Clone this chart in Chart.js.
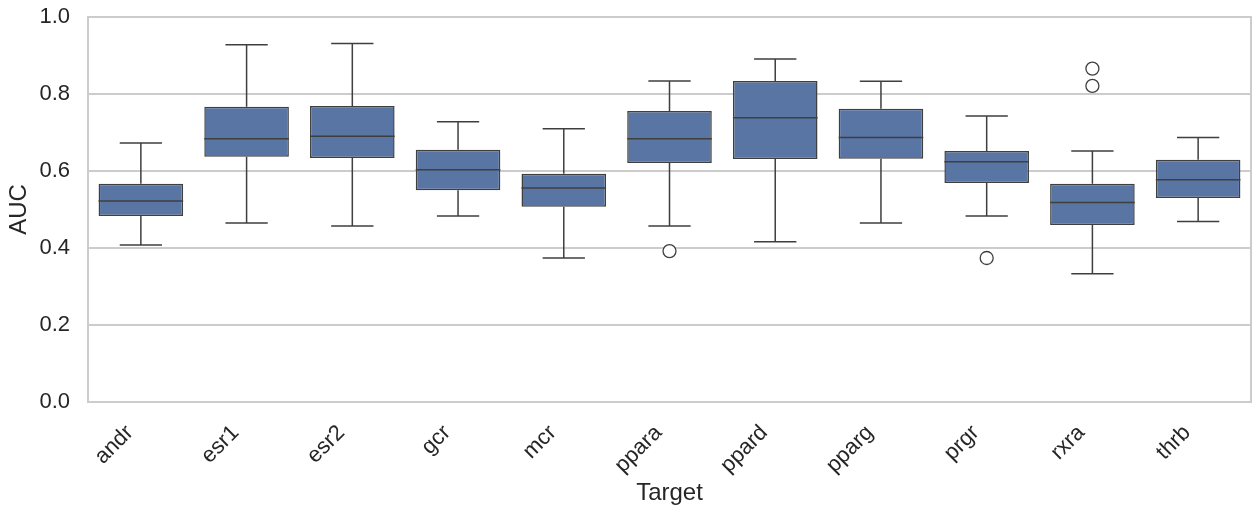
<!DOCTYPE html>
<html lang="en">
<head>
  <meta charset="UTF-8" />
  <title>AUC by Target</title>
  <script src="https://cdn.jsdelivr.net/npm/chart.js"></script>
  <style>
    html, body {
      margin: 0;
      padding: 0;
      background: #fff;
    }
    .chart-container {
      width: 1260px;
      height: 514px;
    }
  </style>
</head>
<body>
  <div class="chart-container">
    <canvas id="boxChart"></canvas>
  </div>

  <script>
    // values
    const targets = ['andr', 'esr1', 'esr2', 'gcr', 'mcr', 'ppara', 'ppard', 'pparg', 'prgr', 'rxra', 'thrb'];
    const whiskerLow = [0.408, 0.465, 0.457, 0.483, 0.374, 0.457, 0.416, 0.465, 0.483, 0.333, 0.469];
    const q1 =         [0.483, 0.637, 0.634, 0.550, 0.507, 0.621, 0.631, 0.632, 0.569, 0.460, 0.530];
    const medians =    [0.522, 0.684, 0.690, 0.603, 0.556, 0.684, 0.738, 0.687, 0.624, 0.518, 0.577];
    const q3 =         [0.567, 0.767, 0.769, 0.655, 0.593, 0.756, 0.834, 0.762, 0.652, 0.567, 0.629];
    const whiskerHigh = [0.673, 0.928, 0.931, 0.728, 0.710, 0.834, 0.891, 0.833, 0.743, 0.652, 0.687];
    const outliers = [
      { x: 'ppara', y: 0.392 },
      { x: 'prgr', y: 0.374 },
      { x: 'rxra', y: 0.866 },
      { x: 'rxra', y: 0.821 }
    ];
    const yTicks = [0, 0.2, 0.4, 0.6, 0.8, 1.0];

    const lineColor = '#3f3f3f';
    const boxColor = '#5875a4';
    const gridColor = '#cccccc';
    const font = 'Liberation Sans';

    // whiskers, caps and medians drawn with the chart's scales
    const boxParts = {
      id: 'boxParts',
      afterDatasetsDraw(chart) {
        const ctx = chart.ctx;
        const xs = chart.scales.x, ys = chart.scales.y;
        const meta = chart.getDatasetMeta(0);
        ctx.save();
        ctx.strokeStyle = lineColor;
        ctx.lineWidth = 1.5;
        targets.forEach((t, i) => {
          const x = xs.getPixelForValue(i);
          const w = meta.data[i].width;
          const lo = ys.getPixelForValue(whiskerLow[i]);
          const hi = ys.getPixelForValue(whiskerHigh[i]);
          const b1 = ys.getPixelForValue(q1[i]);
          const b3 = ys.getPixelForValue(q3[i]);
          const md = ys.getPixelForValue(medians[i]);
          ctx.beginPath();
          ctx.moveTo(x, b3); ctx.lineTo(x, hi);
          ctx.moveTo(x - w / 4, hi); ctx.lineTo(x + w / 4, hi);
          ctx.moveTo(x, b1); ctx.lineTo(x, lo);
          ctx.moveTo(x - w / 4, lo); ctx.lineTo(x + w / 4, lo);
          ctx.moveTo(x - w / 2, md); ctx.lineTo(x + w / 2, md);
          ctx.stroke();
        });
        ctx.restore();
      }
    };

    // light grey frame round the plot area
    const frame = {
      id: 'frame',
      beforeDatasetsDraw(chart) {
        const { ctx, chartArea: a } = chart;
        ctx.save();
        ctx.strokeStyle = gridColor;
        ctx.lineWidth = 2;
        ctx.strokeRect(a.left, a.top, a.right - a.left, a.bottom - a.top);
        ctx.restore();
      }
    };

    const ctx = document.getElementById('boxChart').getContext('2d');
    new Chart(ctx, {
      data: {
        labels: targets,
        datasets: [
          {
            type: 'bar',
            label: 'AUC',
            data: targets.map((t, i) => [q1[i], q3[i]]),
            backgroundColor: boxColor,
            borderColor: lineColor,
            borderWidth: 1.5,
            borderSkipped: false,
            barPercentage: 0.8,
            categoryPercentage: 1.0,
            order: 2
          },
          {
            type: 'scatter',
            label: 'outliers',
            data: outliers,
            pointStyle: 'circle',
            pointRadius: 6.5,
            pointBackgroundColor: '#ffffff',
            pointBorderColor: lineColor,
            pointBorderWidth: 1.3,
            order: 1
          }
        ]
      },
      options: {
        responsive: true,
        maintainAspectRatio: false,
        animation: false,
        layout: { padding: { top: 17, right: 9, left: 0, bottom: 0 } },
        plugins: {
          legend: { display: false },
          tooltip: { enabled: false }
        },
        scales: {
          x: {
            type: 'category',
            offset: true,
            grid: { display: false, drawTicks: false },
            border: { display: false },
            ticks: {
              color: '#262626',
              font: { family: font, size: 22 },
              minRotation: 45,
              maxRotation: 45,
              padding: 18,
              labelOffset: -11
            },
            title: {
              display: true,
              text: 'Target',
              color: '#262626',
              font: { family: font, size: 24 },
              padding: { top: 0, bottom: 6 }
            },
            afterFit(scale) {
              scale.height = 112;
              scale.paddingLeft = 0;
              scale.paddingRight = 0;
            }
          },
          y: {
            min: 0,
            max: 1,
            afterBuildTicks(scale) {
              scale.ticks = yTicks.map(v => ({ value: v }));
            },
            grid: { color: gridColor, lineWidth: 2, drawTicks: false },
            border: { display: false },
            ticks: {
              color: '#262626',
              font: { family: font, size: 22 },
              padding: 18,
              callback: v => v.toFixed(1)
            },
            title: {
              display: true,
              text: 'AUC',
              color: '#262626',
              font: { family: font, size: 24 },
              padding: { top: 5, bottom: 2 }
            },
            afterFit(scale) {
              scale.width = 88;
              scale.paddingTop = 0;
              scale.paddingBottom = 0;
            }
          }
        }
      },
      plugins: [frame, boxParts]
    });
  </script>
</body>
</html>
